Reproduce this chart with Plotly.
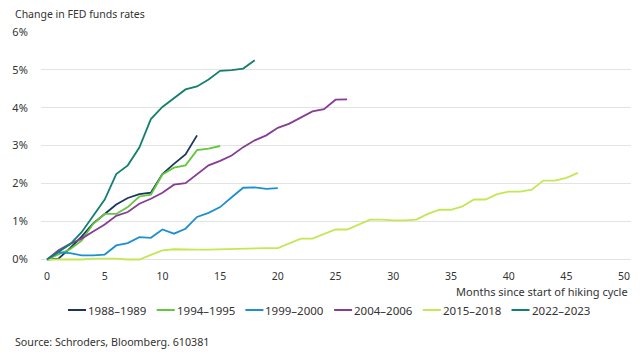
import plotly.graph_objects as go

# ---- data ----
series_names = ["1988\u20131989", "1994\u20131995", "1999\u20132000",
                "2004\u20132006", "2015\u20132018", "2022\u20132023"]

s1988 = [0, 0.02, 0.3, 0.6, 0.95, 1.2, 1.45, 1.62, 1.72, 1.76, 2.25, 2.52, 2.77, 3.27]
s1994 = [0, 0.14, 0.27, 0.5, 0.94, 1.2, 1.2, 1.38, 1.66, 1.71, 2.24, 2.42, 2.48, 2.88, 2.92, 2.99]
s1999 = [0, 0.19, 0.17, 0.11, 0.11, 0.13, 0.37, 0.43, 0.59, 0.57, 0.79, 0.68, 0.81,
         1.12, 1.23, 1.38, 1.64, 1.89, 1.9, 1.86, 1.88]
s2004 = [0, 0.24, 0.41, 0.55, 0.74, 0.92, 1.15, 1.25, 1.47, 1.6, 1.76, 1.97, 2.01, 2.24,
         2.48, 2.6, 2.74, 2.96, 3.14, 3.27, 3.47, 3.58, 3.75, 3.9, 3.96, 4.21, 4.22]
s2015 = [0, 0, 0, 0, 0.02, 0.02, 0.02, 0, 0, 0.12, 0.24, 0.27, 0.26, 0.26, 0.26, 0.27,
         0.28, 0.29, 0.3, 0.3, 0.3, 0.43, 0.55, 0.55, 0.68, 0.79, 0.79, 0.92, 1.05, 1.05,
         1.03, 1.03, 1.05, 1.2, 1.31, 1.31, 1.4, 1.58, 1.58, 1.72, 1.79, 1.79, 1.84, 2.08,
         2.08, 2.15, 2.28]
s2022 = [0, 0.2, 0.4, 0.72, 1.15, 1.58, 2.25, 2.48, 2.95, 3.7, 4.02, 4.24, 4.48, 4.56,
         4.74, 4.97, 4.99, 5.03, 5.25]

series_values = [s1988, s1994, s1999, s2004, s2015, s2022]
colors = ["#1b355f", "#62c83c", "#1f8fd3", "#873c95", "#c3e755", "#13806f"]

x_ticks = [0, 5, 10, 15, 20, 25, 30, 35, 40, 45, 50]
y_ticks = [0, 1, 2, 3, 4, 5, 6]
y_tick_labels = ["0%", "1%", "2%", "3%", "4%", "5%", "6%"]

FONT = "Noto Sans"
TXT = "#333333"

fig = go.Figure()
for name, vals, col in zip(series_names, series_values, colors):
    fig.add_trace(go.Scatter(
        x=list(range(len(vals))), y=vals, mode="lines", name=name,
        line=dict(color=col, width=1.8), showlegend=False,
    ))

# custom legend (short line swatches)
L, R, T, B = 41, 9, 31, 96
W, H = 640, 357
pw, ph = W - L - R, H - T - B
def px_x(px):
    return (px - L) / pw
def px_y(py):
    return (H - B - py) / ph

shapes = []
annotations = []
leg_y = 310
for i, (name, col) in enumerate(zip(series_names, colors)):
    x0 = 68 + 88.7 * i
    shapes.append(dict(type="line", xref="paper", yref="paper",
                       x0=px_x(x0), x1=px_x(x0 + 18), y0=px_y(leg_y), y1=px_y(leg_y),
                       line=dict(color=col, width=2)))
    annotations.append(dict(xref="paper", yref="paper", x=px_x(x0 + 18), y=px_y(leg_y),
                            xanchor="left", yanchor="middle", text=name, showarrow=False,
                            font=dict(family=FONT, size=11.5, color=TXT)))

annotations.append(dict(xref="paper", yref="paper", x=px_x(13), y=px_y(14),
                        xanchor="left", yanchor="middle", text="Change in FED funds rates",
                        showarrow=False, font=dict(family=FONT, size=10.5, color=TXT)))
annotations.append(dict(xref="paper", yref="paper", x=px_x(630), y=px_y(291),
                        xanchor="right", yanchor="middle",
                        text="Months since start of hiking cycle",
                        showarrow=False, font=dict(family=FONT, size=11, color=TXT)))
annotations.append(dict(xref="paper", yref="paper", x=px_x(13), y=px_y(342),
                        xanchor="left", yanchor="middle",
                        text="Source: Schroders, Bloomberg. 610381",
                        showarrow=False, font=dict(family=FONT, size=10.7, color=TXT)))

fig.update_layout(
    width=W, height=H,
    margin=dict(l=L, r=R, t=T, b=B, autoexpand=False),
    plot_bgcolor="white", paper_bgcolor="white",
    font=dict(family=FONT, size=10.5, color=TXT),
    shapes=shapes, annotations=annotations,
    showlegend=False,
)
fig.update_xaxes(range=[-0.52, 50.6], tickvals=x_ticks, showgrid=False, zeroline=False,
                 showline=False, ticks="outside", ticklen=5, tickcolor="rgba(0,0,0,0)",
                 automargin=False,
                 tickfont=dict(family=FONT, size=10.5, color=TXT))
fig.update_yaxes(range=[-0.04, 6.02], tickvals=y_ticks, ticktext=y_tick_labels,
                 showgrid=True, gridcolor="#e3e3e3", gridwidth=1, zeroline=False,
                 showline=False, ticks="outside", ticklen=10, tickcolor="rgba(0,0,0,0)",
                 automargin=False,
                 tickfont=dict(family=FONT, size=11, color=TXT))

fig.write_html("out.html", config={"displayModeBar": False},
               post_script="document.body.style.margin='0';document.body.style.padding='0';")
